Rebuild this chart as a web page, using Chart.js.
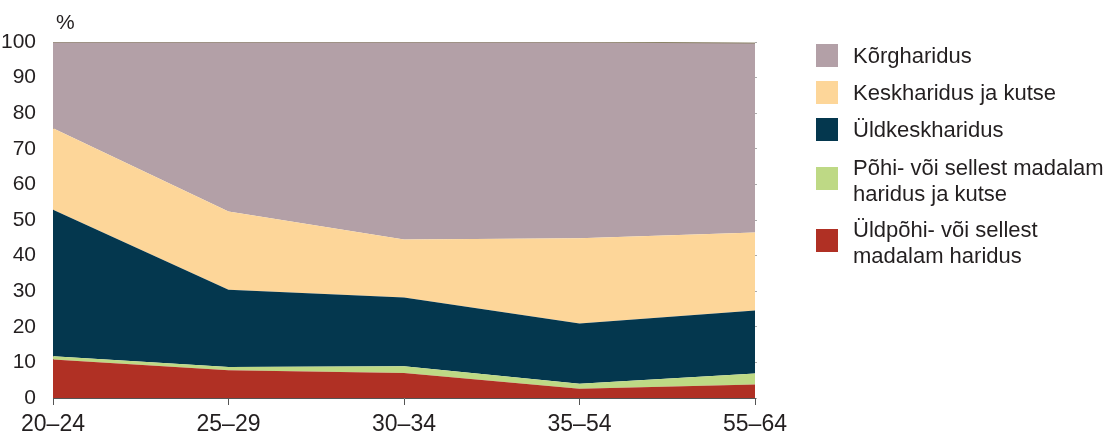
<!DOCTYPE html>
<html>
<head>
<meta charset="utf-8">
<script src="https://cdn.jsdelivr.net/npm/chart.js@4"></script>
<style>
  body { margin: 0; background: #fff; font-family: "Liberation Sans", Arial, sans-serif; }
  #wrap { position: relative; width: 1105px; height: 435px; }
  #legend { position: absolute; left: 816px; top: 0; color: #231f20; font-size: 22px; }
  .item { position: absolute; left: 0; white-space: nowrap; }
  .box { position: absolute; left: 0; width: 22px; height: 23px; }
  .txt { position: absolute; left: 37px; line-height: 26px; }
</style>
</head>
<body>
<div id="wrap">
  <canvas id="eduChart" width="1105" height="435"></canvas>
  <div id="legend"></div>
</div>
<script>
  const ageGroups = ["20–24", "25–29", "30–34", "35–54", "55–64"];

  // shares, %, bottom to top
  const uldpohi = [10.8, 7.8, 7.0, 2.6, 3.8];
  const pohiKutse = [0.9, 0.9, 1.9, 1.4, 3.1];
  const uldkesk = [41.2, 21.7, 19.3, 16.9, 17.7];
  const keskKutse = [22.9, 22.0, 16.3, 24.0, 21.9];
  const korg = [24.2, 47.6, 55.5, 55.1, 53.2];

  const yTicks = [0, 10, 20, 30, 40, 50, 60, 70, 80, 90, 100];

  const series = [
    { label: ["Üldpõhi- või sellest", "madalam haridus"], data: uldpohi, color: "#b03024" },
    { label: ["Põhi- või sellest madalam", "haridus ja kutse"], data: pohiKutse, color: "#bed985" },
    { label: ["Üldkeskharidus"], data: uldkesk, color: "#04374e" },
    { label: ["Keskharidus ja kutse"], data: keskKutse, color: "#fdd699" },
    { label: ["Kõrgharidus"], data: korg, color: "#b3a0a7" }
  ];

  const canvas = document.getElementById("eduChart");
  const ctx = canvas.getContext("2d");

  // "%" label over the y axis
  const percentLabel = {
    id: "percentLabel",
    afterDraw(chart) {
      const c = chart.ctx;
      c.save();
      c.fillStyle = "#231f20";
      c.font = "21px 'Liberation Sans', Arial, sans-serif";
      c.textAlign = "left";
      c.textBaseline = "middle";
      c.fillText("%", chart.chartArea.left + 3, 23);
      c.restore();
    }
  };

  const myChart = new Chart(ctx, {
    type: "line",
    data: {
      labels: ageGroups,
      datasets: series.map((s, i) => ({
        label: s.label.join(" "),
        data: s.data,
        backgroundColor: s.color,
        borderColor: i === series.length - 1 ? "#8c8467" : s.color,
        borderWidth: i === series.length - 1 ? 1 : 0,
        pointRadius: 0,
        tension: 0,
        fill: i === 0 ? "origin" : "-1"
      }))
    },
    options: {
      responsive: false,
      animation: false,
      layout: { padding: { top: 42, right: 347, left: 0, bottom: 0 } },
      plugins: {
        legend: { display: false },
        tooltip: { enabled: false }
      },
      scales: {
        x: {
          offset: false,
          border: { color: "#555", width: 1 },
          grid: { drawOnChartArea: false, drawTicks: true, tickLength: 7, color: "#555" },
          ticks: {
            color: "#231f20",
            padding: 6,
            maxRotation: 0,
            font: { family: "'Liberation Sans', Arial, sans-serif", size: 23 }
          },
          afterFit(scale) { scale.height = 37; }
        },
        y: {
          stacked: true,
          min: 0,
          max: 100,
          afterBuildTicks(scale) { scale.ticks = yTicks.map(v => ({ value: v })); },
          border: { color: "#555", width: 1 },
          grid: { display: false },
          ticks: {
            color: "#231f20",
            padding: 9,
            font: { family: "'Liberation Sans', Arial, sans-serif", size: 21 }
          },
          afterFit(scale) { scale.width = 53; }
        },
        yRight: {
          position: "right",
          min: 0,
          max: 100,
          afterBuildTicks(scale) { scale.ticks = yTicks.map(v => ({ value: v })); },
          border: { display: false },
          grid: { drawOnChartArea: false, drawTicks: true, tickLength: 2, color: "#aaa" },
          ticks: { display: false },
          afterFit(scale) { scale.width = 3; }
        }
      }
    },
    plugins: [percentLabel]
  });

  // legend, top series first
  const legend = document.getElementById("legend");
  const rows = [
    { s: series[4], top: 44 },
    { s: series[3], top: 81 },
    { s: series[2], top: 118 },
    { s: series[1], top: 167 },
    { s: series[0], top: 229 }
  ];
  rows.forEach(r => {
    const item = document.createElement("div");
    item.className = "item";
    item.style.top = r.top + "px";
    const box = document.createElement("div");
    box.className = "box";
    box.style.background = r.s.color;
    const txt = document.createElement("div");
    txt.className = "txt";
    txt.style.top = (r.s.label.length > 1 ? -12 : -1) + "px";
    txt.innerHTML = r.s.label.join("<br>");
    item.appendChild(box);
    item.appendChild(txt);
    legend.appendChild(item);
  });
</script>
</body>
</html>
